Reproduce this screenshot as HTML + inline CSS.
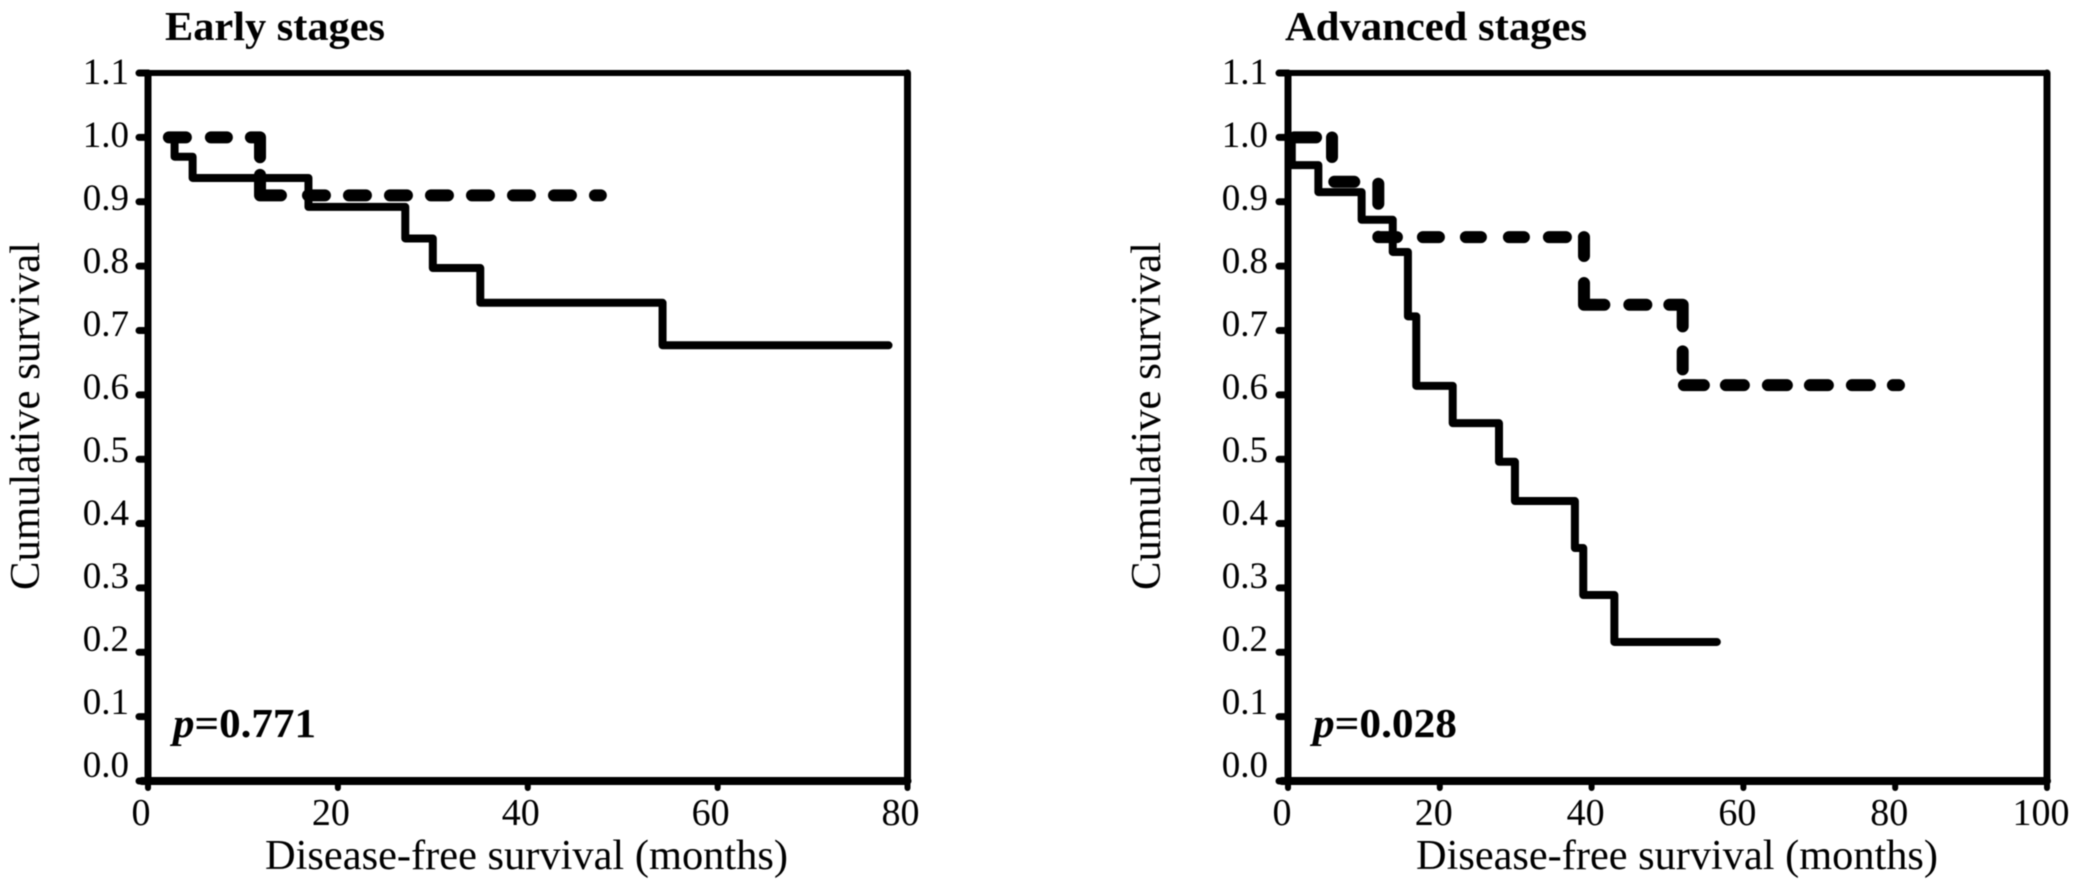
<!DOCTYPE html>
<html lang="en">
<head>
<meta charset="utf-8">
<title>Disease-free survival by stage</title>
<style>
html,body{margin:0;padding:0;background:#fff;width:2073px;height:879px;overflow:hidden}
svg{display:block;filter:blur(0.6px)}
text{font-family:"Liberation Serif",serif;fill:#000}
</style>
</head>
<body>
<svg id="figure" width="2073" height="879" viewBox="0 0 2073 879" xmlns="http://www.w3.org/2000/svg">
  <rect width="2073" height="879" fill="#fff"/>
  <g id="early">
    <text x="165" y="40" font-size="41" font-weight="bold" textLength="220" lengthAdjust="spacingAndGlyphs">Early stages</text>
    <text transform="translate(39,590) rotate(-90)" font-size="42" textLength="348" lengthAdjust="spacingAndGlyphs">Cumulative survival</text>
    <text x="265" y="869" font-size="42" textLength="523" lengthAdjust="spacingAndGlyphs">Disease-free survival (months)</text>
    <text x="173" y="737" font-size="41" font-weight="bold" textLength="143" lengthAdjust="spacingAndGlyphs"><tspan font-style="italic">p</tspan>=0.771</text>
  </g>
  <g id="advanced">
    <text x="1285" y="40" font-size="41" font-weight="bold" textLength="302" lengthAdjust="spacingAndGlyphs">Advanced stages</text>
    <text transform="translate(1160,590) rotate(-90)" font-size="42" textLength="348" lengthAdjust="spacingAndGlyphs">Cumulative survival</text>
    <text x="1416" y="869" font-size="42" textLength="522" lengthAdjust="spacingAndGlyphs">Disease-free survival (months)</text>
    <text x="1313" y="737" font-size="41" font-weight="bold" textLength="144" lengthAdjust="spacingAndGlyphs"><tspan font-style="italic">p</tspan>=0.028</text>
  </g>
</svg>
<script>
var yTickValues = [0, 0.1, 0.2, 0.3, 0.4, 0.5, 0.6, 0.7, 0.8, 0.9, 1.0, 1.1];
var yTickLabels = ["0.0", "0.1", "0.2", "0.3", "0.4", "0.5", "0.6", "0.7", "0.8", "0.9", "1.0", "1.1"];

var earlyXTicks = [0, 20, 40, 60, 80];
var earlySolidTimes = [2.2, 2.8, 4.7, 16.9, 27.1, 30, 35, 54.2, 78];
var earlySolidSurvival = [1, 0.97, 0.937, 0.892, 0.843, 0.797, 0.743, 0.677, 0.677];
var earlyDashedTimes = [2.2, 11.8, 47.7];
var earlyDashedSurvival = [1, 0.91, 0.91];

var advancedXTicks = [0, 20, 40, 60, 80, 100];
var advancedSolidTimes = [0, 0.5, 4, 9.7, 13.8, 15.8, 16.9, 21.7, 27.8, 29.9, 37.8, 38.9, 43, 56.5];
var advancedSolidSurvival = [1, 0.957, 0.915, 0.872, 0.822, 0.722, 0.614, 0.556, 0.496, 0.435, 0.362, 0.289, 0.216, 0.216];
var advancedDashedTimes = [0.8, 5.8, 11.9, 39, 52, 80.5];
var advancedDashedSurvival = [1, 0.931, 0.845, 0.74, 0.615, 0.615];

var earlyDashStyle = "17 25 16 24 29 17.6 41.4 27 17 24 17 24 17 24 17 24 17 24 17 24 17 24 17 24 17 24";
var advancedDashStyle = "22 16 19.6 27 20 26 20 33 19 26 16 27 15 28 15 25 17 18 19 27 42 25 17 23 35 25 18 17 20 22 18 24 19 23 18 24 18 23 18 24";

var SVGNS = "http://www.w3.org/2000/svg";
var plotTop = 73, plotBottom = 781;

function yScale(v) { return plotBottom - v * 643.6; }
function yLabelBaseline(v) { return 777 - Math.round(v * 10) * 63; }

function makeLine(parent, x1, y1, x2, y2, width, name) {
  var el = document.createElementNS(SVGNS, "line");
  
  
  el.setAttribute("x1", x1);
  el.setAttribute("y1", y1);
  el.setAttribute("x2", x2);
  el.setAttribute("y2", y2);
  el.setAttribute("stroke", "#000");
  el.setAttribute("stroke-width", width);
  el.setAttribute("stroke-linecap", "round");
  parent.appendChild(el);
}

function makeLabel(parent, x, y, str, anchor, size, name) {
  var el = document.createElementNS(SVGNS, "text");
  
  
  el.setAttribute("x", x);
  el.setAttribute("y", y);
  el.setAttribute("text-anchor", anchor);
  el.setAttribute("font-size", size);
  el.textContent = str;
  parent.appendChild(el);
}

function stepPath(parent, times, survival, xScale, dashStyle, name) {
  var d = "M" + xScale(times[0]) + " " + yScale(survival[0]);
  for (var i = 1; i < times.length; i++) {
    d += " H" + xScale(times[i]) + " V" + yScale(survival[i]);
  }
  var el = document.createElementNS(SVGNS, "path");
  
  
  el.setAttribute("d", d);
  el.setAttribute("fill", "none");
  el.setAttribute("stroke", "#000");
  el.setAttribute("stroke-linejoin", "round");
  el.setAttribute("stroke-linecap", "round");
  el.setAttribute("stroke-width", dashStyle ? 12 : 8);
  if (dashStyle) { el.setAttribute("stroke-dasharray", dashStyle); }
  parent.appendChild(el);
}

function drawPanel(id, xLeft, xRight, xMax, xTicks, xLabelShift, yLabelX, solidT, solidS, dashT, dashS, dashStyle) {
  var g = document.getElementById(id);
  function xScale(t) { return xLeft + (xRight - xLeft) * t / xMax; }
  makeLine(g, xLeft - 8, plotTop, xRight, plotTop, 6, id + "-top-border");
  makeLine(g, xLeft, plotTop, xLeft, plotBottom, 7, id + "-y-axis");
  makeLine(g, xRight, plotTop, xRight, plotBottom, 7, id + "-right-border");
  makeLine(g, xLeft - 6, plotBottom, xRight, plotBottom, 8, id + "-x-axis");
  yTickValues.forEach(function (v, i) {
    makeLine(g, xLeft - 9, yScale(v), xLeft, yScale(v), 7, id + "-y-tick");
    makeLabel(g, yLabelX, yLabelBaseline(v), yTickLabels[i], "end", 37, id + "-y-tick-label");
  });
  xTicks.forEach(function (t) {
    makeLine(g, xScale(t), plotBottom, xScale(t), plotBottom + 7, 6, id + "-x-tick");
    makeLabel(g, xScale(t) + xLabelShift, 825, String(t), "middle", 38, id + "-x-tick-label");
  });
  stepPath(g, dashT, dashS, xScale, dashStyle, id + "-dashed-curve");
  stepPath(g, solidT, solidS, xScale, "", id + "-solid-curve");
}

drawPanel("early", 148, 907.5, 80, earlyXTicks, -7, 129, earlySolidTimes, earlySolidSurvival, earlyDashedTimes, earlyDashedSurvival, earlyDashStyle);
drawPanel("advanced", 1288, 2047, 100, advancedXTicks, -6, 1268, advancedSolidTimes, advancedSolidSurvival, advancedDashedTimes, advancedDashedSurvival, advancedDashStyle);
</script>
</body>
</html>
